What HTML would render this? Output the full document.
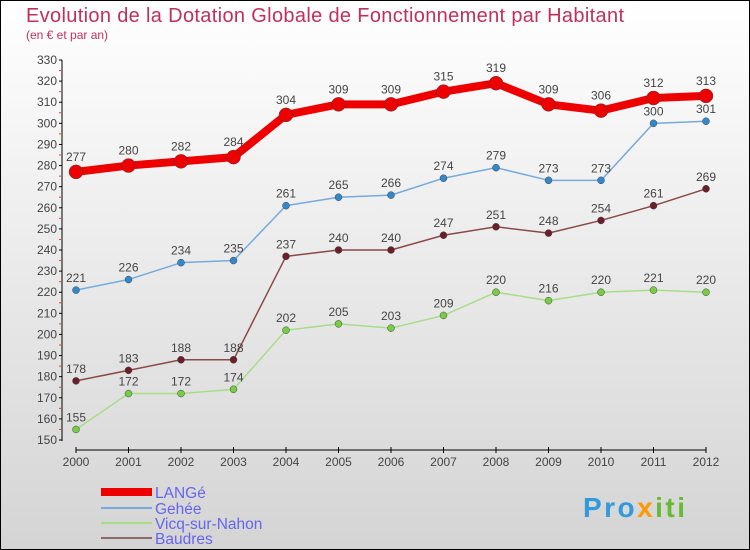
<!DOCTYPE html>
<html><head><meta charset="utf-8"><style>
body{margin:0;}
#c{width:750px;height:550px;position:relative;box-sizing:border-box;border:1px solid #000;background:linear-gradient(#ffffff,#d4d4d4);font-family:"Liberation Sans",sans-serif;overflow:hidden}
</style></head><body>
<div id="c">
<svg width="750" height="550" style="position:absolute;left:-1px;top:-1px" id="svg">
<text x="26" y="22" font-size="20" fill="#c0305a" textLength="598">Evolution de la Dotation Globale de Fonctionnement par Habitant</text>
<text x="26" y="39" font-size="12" fill="#c0305a">(en € et par an)</text>
<g id="axes"></g><g id="series"></g><g id="legend"></g>
<text x="583" y="517" font-size="28" font-weight="bold" fill="#3399dd" textLength="102">Pro<tspan fill="#ff9900">x</tspan><tspan fill="#66bb33">iti</tspan></text>
</svg>
</div>
<script>
const years=[2000,2001,2002,2003,2004,2005,2006,2007,2008,2009,2010,2011,2012];
const yTicks=[150,160,170,180,190,200,210,220,230,240,250,260,270,280,290,300,310,320,330];
const lange=[277,280,282,284,304,309,309,315,319,309,306,312,313];
const gehee=[221,226,234,235,261,265,266,274,279,273,273,300,301];
const vicq=[155,172,172,174,202,205,203,209,220,216,220,221,220];
const baudres=[178,183,188,188,237,240,240,247,251,248,254,261,269];
const NS="http://www.w3.org/2000/svg";
const xs=i=>76+i*(706-76)/12;
const ys=v=>440-(v-150)*380/180;
function mk(tag,attrs,parent,text){const e=document.createElementNS(NS,tag);for(const k in attrs)e.setAttribute(k,attrs[k]);if(text!==undefined)e.textContent=text;parent.appendChild(e);return e;}
const ax=document.getElementById('axes');
let e=mk('line',{x1:62,y1:60,x2:62,y2:441,stroke:'#000','stroke-width':1},ax);


e=mk('line',{x1:76,y1:450,x2:706,y2:450,stroke:'#000','stroke-width':1},ax);


yTicks.forEach(v=>{
 mk('line',{x1:59,x2:62,y1:ys(v),y2:ys(v),stroke:'#000'},ax);
 if(v<330)mk('line',{x1:59,x2:61,y1:ys(v+5),y2:ys(v+5),stroke:'#f33'},ax);
 const t=mk('text',{x:57,y:ys(v)+4,'font-size':12,'text-anchor':'end',fill:'#444'},ax,v);
 
 
});
years.forEach((y,i)=>{
 mk('line',{x1:xs(i),x2:xs(i),y1:447,y2:453,stroke:'#000'},ax);
 const t=mk('text',{x:xs(i),y:466,'font-size':12,'text-anchor':'middle',fill:'#444'},ax,y);
 
 
});
const sg=document.getElementById('series');
const series=[
 {name:'baudres',d:baudres,c:'#6b1f2a',lc:'#8a4a4a',w:1.5,r:3.5},
 {name:'vicq',d:vicq,c:'#77cc44',lc:'#a8dd88',w:1.5,r:3.5},
 {name:'gehee',d:gehee,c:'#3388cc',lc:'#77aadd',w:1.5,r:3.5},
 {name:'lange',d:lange,c:'#ee0000',lc:'#ee0000',w:8,r:7}];
series.forEach(s=>{
 const g=mk('g',{},sg);
 
 
 const p=mk('polyline',{points:s.d.map((v,i)=>xs(i)+','+ys(v)).join(' '),fill:'none',stroke:s.lc,'stroke-width':s.w,'stroke-linejoin':'round'},g);
 
 
 s.d.forEach((v,i)=>{
  const c=mk('circle',{cx:xs(i),cy:ys(v),r:s.r,fill:s.c,stroke:'#444','stroke-width':0.5},g);
  
  
  const t=mk('text',{x:xs(i),y:ys(v)-(s.name==='lange'?11:8),'font-size':12,'text-anchor':'middle',fill:'#444'},g,v);
  
  
 });
});
const lg=document.getElementById('legend');
[['LANGé','#ee0000',8,492],['Gehée','#77aadd',2,508],['Vicq-sur-Nahon','#a8dd88',2,523],['Baudres','#8a6a6a',2,538]].forEach(l=>{
 const g=mk('g',{},lg);
 
 
 mk('line',{x1:101,x2:152,y1:l[3],y2:l[3],stroke:l[1],'stroke-width':l[2]},g);
 mk('text',{x:155,y:l[3]+6,'font-size':15.5,fill:'#6666ee'},g,l[0]);
});
</script>
</body></html>
